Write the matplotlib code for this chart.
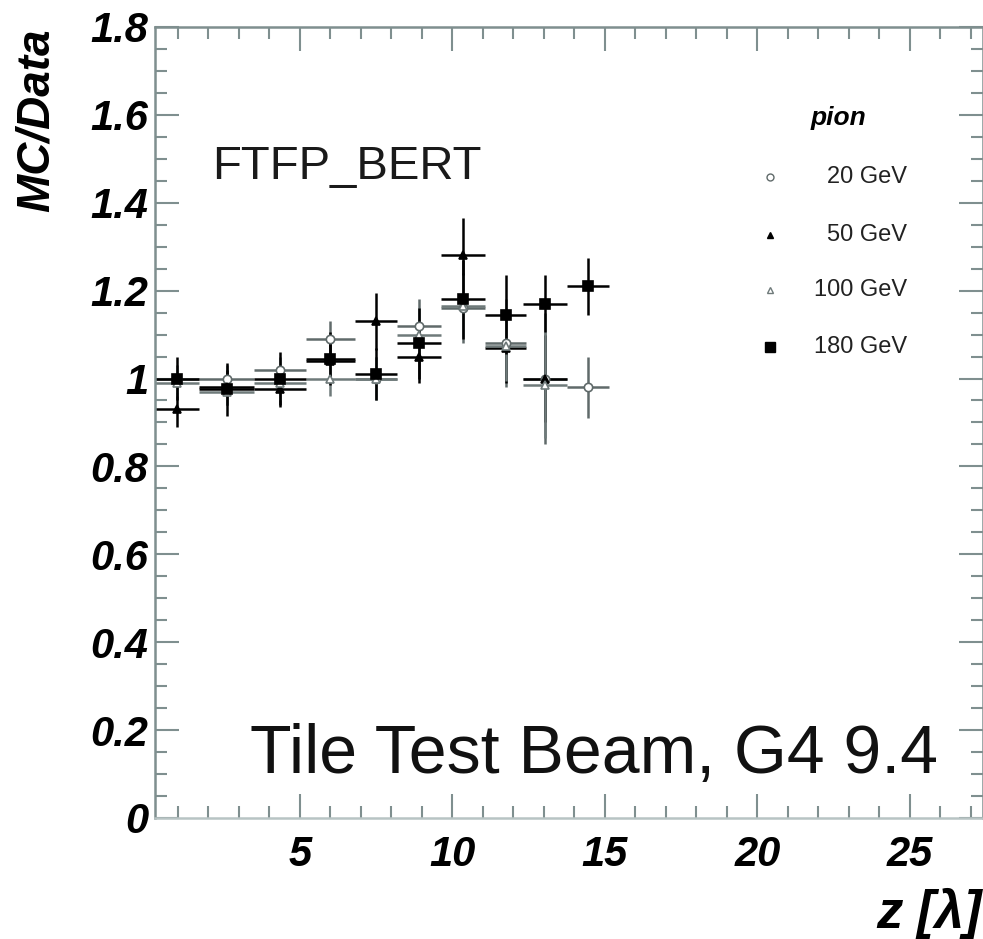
import matplotlib
matplotlib.use('Agg')
import matplotlib.pyplot as plt
from matplotlib.ticker import MultipleLocator, FuncFormatter

plt.rcParams['font.family'] = ['Liberation Sans', 'DejaVu Sans']

# layer centres and half widths [lambda]
z = [0.97, 2.6, 4.35, 6.0, 7.5, 8.9, 10.35, 11.75, 13.05, 14.45]
zerr = [0.72, 0.9, 0.85, 0.8, 0.7, 0.72, 0.72, 0.68, 0.72, 0.7]

# MC/Data ratios per beam energy
r20 = [1.0, 1.0, 1.02, 1.09, 1.0, 1.12, 1.16, 1.08, 1.0, 0.98]
r20_err = [0.03, 0.03, 0.03, 0.04, 0.05, 0.06, 0.08, 0.1, 0.15, 0.07]
r50 = [0.93, 0.98, 0.975, 1.04, 1.13, 1.05, 1.28, 1.07, 1.0]
r50_err = [0.04, 0.04, 0.04, 0.05, 0.065, 0.06, 0.085, 0.08, 0.1]
r100 = [0.99, 0.97, 0.99, 1.0, 1.0, 1.10, 1.165, 1.075, 0.985]
r100_err = [0.03, 0.03, 0.04, 0.04, 0.05, 0.06, 0.07, 0.08, 0.12]
r180 = [1.0, 0.975, 1.0, 1.045, 1.01, 1.08, 1.18, 1.145, 1.17, 1.21]
r180_err = [0.05, 0.06, 0.06, 0.06, 0.06, 0.08, 0.09, 0.09, 0.065, 0.065]

labels = ['20 GeV', '50 GeV', '100 GeV', '180 GeV']

fig = plt.figure(figsize=(9.83, 9.39), dpi=100)
ax = fig.add_axes([0.1577, 0.1289, 0.8423, 0.8424])

grey = '#7f8f8f'

# series: (values, errors, marker, colour, face, size)
series = [
    (r20, r20_err, 'o', '#606a6a', 'white', 6),
    (r50, r50_err, '^', 'black', 'black', 6),
    (r100, r100_err, '^', '#6f7a7a', 'white', 6),
    (r180, r180_err, 's', 'black', 'black', 7.5),
]
for vals, errs, m, c, fc, ms in series:
    n = len(vals)
    ax.errorbar(z[:n], vals, xerr=zerr[:n], yerr=errs, fmt=m, color=c,
                mfc=fc, mec=c, ms=ms, elinewidth=1.8, capsize=0, mew=1.2)

ax.set_xlim(0.25, 27.4)
ax.set_ylim(0, 1.8)
ax.xaxis.set_major_locator(MultipleLocator(5))
ax.xaxis.set_minor_locator(MultipleLocator(1))
ax.yaxis.set_major_locator(MultipleLocator(0.2))
ax.yaxis.set_minor_locator(MultipleLocator(0.05))
ax.yaxis.set_major_formatter(FuncFormatter(lambda v, p: '%g' % round(v, 2)))
ax.xaxis.set_major_formatter(FuncFormatter(lambda v, p: '%g' % v))

ax.tick_params(which='both', direction='in', top=True, right=True, color=grey, width=1.5)
ax.tick_params(which='major', length=17)
ax.tick_params(which='minor', length=8.5)
ax.tick_params(axis='y', which='major', pad=5)
ax.tick_params(axis='x', which='major', pad=12)
for lab in ax.get_xticklabels() + ax.get_yticklabels():
    lab.set_fontsize(30)
    lab.set_fontweight('bold')
    lab.set_fontstyle('italic')
for s in ax.spines.values():
    s.set_color(grey)
    s.set_linewidth(1.8)
ax.spines['bottom'].set_color('#b8c4c4')

# axis titles
fig.text(37 / 983, 1 - 28 / 939, 'MC/Data', rotation=90, ha='center', va='top',
         fontsize=33, fontweight='bold', fontstyle='italic')
fig.text(0.999, 1 - 913 / 939, 'z [λ]', ha='right', va='center',
         fontsize=38, fontweight='bold', fontstyle='italic')

# annotations
fig.text(212 / 983, 1 - 179 / 939, 'FTFP_BERT', ha='left', va='baseline',
         fontsize=34, color='#1a1a1a')
fig.text(250 / 983, 1 - 773 / 939, 'Tile Test Beam, G4 9.4', ha='left', va='baseline',
         fontsize=49, color='#111111')

# legend drawn by hand
fig.text(838 / 983, 1 - 118 / 939, 'pion', ha='center', va='center',
         fontsize=19, fontweight='bold', fontstyle='italic')
leg_y = [177, 235, 290, 347]
for (vals, errs, m, c, fc, ms), lab, yp in zip(series, labels, leg_y):
    yf = 1 - yp / 939
    ax.plot([770 / 983], [yf], marker=m, color=c, mfc=fc, mec=c, ms=ms - 1,
            transform=fig.transFigure, clip_on=False)
    fig.text(907 / 983, yf, lab, ha='right', va='center', fontsize=17, color='#222222')

fig.savefig('out.png', dpi=100)
